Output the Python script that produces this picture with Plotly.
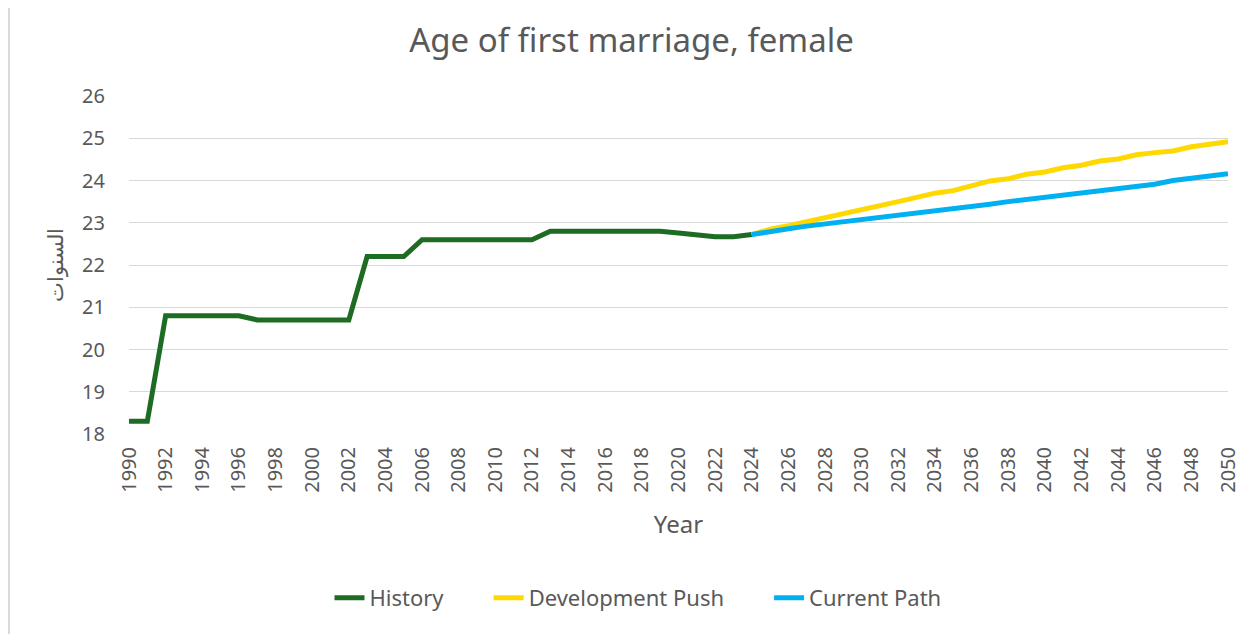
import plotly.graph_objects as go

# ---- data ----
history_years = list(range(1990, 2025))
history_vals = [
    18.3, 18.3, 20.8, 20.8, 20.8, 20.8, 20.8, 20.7, 20.7, 20.7,
    20.7, 20.7, 20.7, 22.2, 22.2, 22.2, 22.6, 22.6, 22.6, 22.6,
    22.6, 22.6, 22.6, 22.8, 22.8, 22.8, 22.8, 22.8, 22.8, 22.8,
    22.76, 22.71, 22.67, 22.67, 22.72,
]

proj_years = list(range(2024, 2051))
dev_push = [
    22.72, 22.85, 22.93, 23.02, 23.12, 23.21, 23.31, 23.40, 23.50, 23.60,
    23.70, 23.76, 23.87, 23.99, 24.04, 24.15, 24.20, 24.30, 24.36, 24.46,
    24.51, 24.61, 24.66, 24.70, 24.80, 24.85, 24.92,
]
current_path = [
    22.72, 22.80, 22.86, 22.92, 22.97, 23.03, 23.08, 23.13, 23.18, 23.24,
    23.29, 23.34, 23.39, 23.44, 23.50, 23.55, 23.60, 23.65, 23.70, 23.76,
    23.81, 23.86, 23.91, 24.00, 24.05, 24.10, 24.16,
]

all_years = [str(y) for y in range(1990, 2051)]
tick_years = [str(y) for y in range(1990, 2051, 2)]

FONT = "Noto Sans"
GREY = "#595959"
PAD = "\u00a0" * 7  # extra room between legend entries

fig = go.Figure()

fig.add_trace(go.Scatter(
    x=[str(y) for y in history_years], y=history_vals,
    name="History" + PAD, mode="lines",
    line=dict(color="#1E6B23", width=5),
))
fig.add_trace(go.Scatter(
    x=[str(y) for y in proj_years], y=dev_push,
    name="Development Push" + PAD, mode="lines",
    line=dict(color="#FFD800", width=5),
))
fig.add_trace(go.Scatter(
    x=[str(y) for y in proj_years], y=current_path,
    name="Current Path", mode="lines",
    line=dict(color="#00B0F0", width=5),
))

# thin frame line on the left edge of the chart area
fig.add_shape(
    type="line", xref="paper", yref="paper",
    x0=(1 - 121) / 1099, x1=(1 - 121) / 1099,
    y0=426 / 338, y1=(426 - 626) / 338,
    line=dict(color="#d9d9d9", width=2),
)

fig.update_layout(
    width=1247, height=626,
    margin=dict(l=121, r=27, t=88, b=200),
    paper_bgcolor="white", plot_bgcolor="white",
    font=dict(family=FONT, color=GREY, size=18),
    title=dict(
        text="Age of first marriage, female",
        x=0.5, xanchor="center", y=1 - 32 / 626, yanchor="middle",
        font=dict(size=33, color=GREY, family=FONT),
    ),
    showlegend=True,
    legend=dict(
        orientation="h", x=(630 - 121) / 1099, xanchor="center",
        y=-0.485, yanchor="middle",
        font=dict(size=22, color=GREY),
    ),
)

fig.update_xaxes(
    type="category", categoryorder="array", categoryarray=all_years,
    tickmode="array", tickvals=tick_years,
    tickangle=-90, tickfont=dict(size=20, color=GREY),
    showgrid=False, zeroline=False, showline=False, ticks="",
    ticklabelstandoff=8,
    title=dict(text="Year", font=dict(size=24, color=GREY), standoff=24),
)

fig.update_yaxes(
    range=[18, 26], dtick=1, tick0=18,
    showgrid=True, gridcolor="#d9d9d9", gridwidth=1,
    zeroline=False, showline=False, ticks="",
    tickfont=dict(size=20, color=GREY),
    ticklabelstandoff=23,
    title=dict(text="السنوات", font=dict(size=21, color=GREY), standoff=12),
)

fig.write_html("out.html")
